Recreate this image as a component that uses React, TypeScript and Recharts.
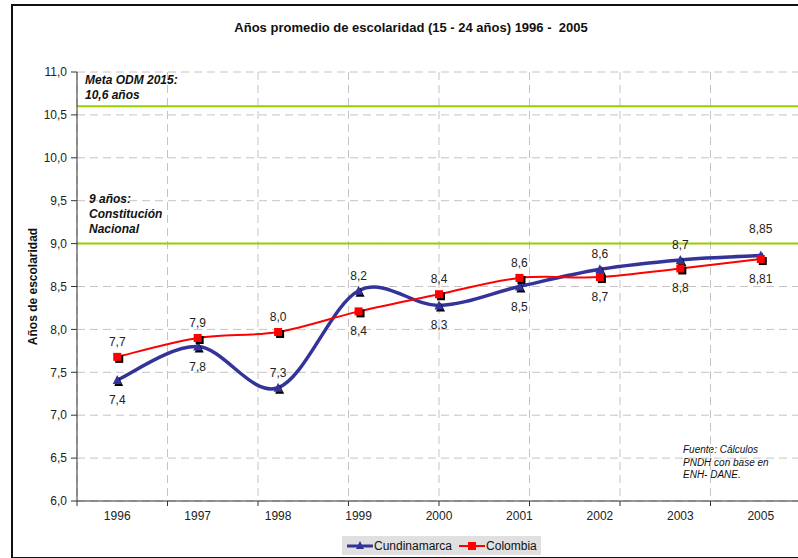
import React from 'react';
import { LineChart, Line, XAxis, YAxis, CartesianGrid, ReferenceLine, LabelList, Legend } from 'recharts';

const years = ['1996', '1997', '1998', '1999', '2000', '2001', '2002', '2003', '2005'];
const cundinamarca = [7.41, 7.8, 7.32, 8.45, 8.28, 8.5, 8.7, 8.81, 8.86];
const colombia = [7.68, 7.9, 7.97, 8.21, 8.41, 8.6, 8.61, 8.71, 8.82];
const cundLabels = ['7,4', '7,8', '7,3', '8,2', '8,3', '8,5', '8,6', '8,7', '8,85'];
const cundLabelPos = ['bottom', 'bottom', 'top', 'top', 'bottom', 'bottom', 'top', 'top', 'high'];
const colLabels = ['7,7', '7,9', '8,0', '8,4', '8,4', '8,6', '8,7', '8,8', '8,81'];
const colLabelPos = ['top', 'top', 'top', 'bottom', 'top', 'top', 'bottom', 'bottom', 'bottom'];
const yTicks = [6, 6.5, 7, 7.5, 8, 8.5, 9, 9.5, 10, 10.5, 11];
const metaOdm = 10.6;
const constitucion = 9;

const FONT = '"Liberation Sans", Arial, sans-serif';
const BLUE = '#333399';
const RED = '#ff0000';

const data = years.map((year, i) => ({
  year,
  cund: cundinamarca[i],
  col: colombia[i],
  cundLabel: cundLabels[i],
  colLabel: colLabels[i],
}));
const boundaryTicks = Array.from({ length: years.length + 1 }, (_, i) => i);

// Excel-like smoothed line (Catmull-Rom through the points)
const smoothCurve = (context: any) => {
  let pts: number[][] = [];
  return {
    areaStart() {},
    areaEnd() {},
    lineStart() {
      pts = [];
    },
    point(x: number, y: number) {
      pts.push([+x, +y]);
    },
    lineEnd() {
      if (!pts.length) return;
      context.moveTo(pts[0][0], pts[0][1]);
      for (let i = 0; i < pts.length - 1; i++) {
        const p0 = pts[i - 1] || pts[i];
        const p1 = pts[i];
        const p2 = pts[i + 1];
        const p3 = pts[i + 2] || p2;
        context.bezierCurveTo(
          p1[0] + (p2[0] - p0[0]) / 6,
          p1[1] + (p2[1] - p0[1]) / 6,
          p2[0] - (p3[0] - p1[0]) / 6,
          p2[1] - (p3[1] - p1[1]) / 6,
          p2[0],
          p2[1]
        );
      }
    },
  };
};

const TriangleDot = (props: any) => {
  const { cx, cy } = props;
  if (cx == null || cy == null) return null;
  return (
    <g>
      <polygon points={`${cx + 1.5},${cy - 3} ${cx + 6},${cy + 6} ${cx - 3},${cy + 6}`} fill="#000" />
      <polygon points={`${cx},${cy - 5} ${cx + 4.5},${cy + 4} ${cx - 4.5},${cy + 4}`} fill={BLUE} />
    </g>
  );
};

const SquareDot = (props: any) => {
  const { cx, cy } = props;
  if (cx == null || cy == null) return null;
  return (
    <g>
      <rect x={cx - 2} y={cy - 2} width={8} height={8} fill="#000" />
      <rect x={cx - 4} y={cy - 4} width={8} height={8} fill={RED} />
    </g>
  );
};

const labelShift: Record<string, number> = { top: -11, high: -23, bottom: 24 };

const makeLabel = (positions: string[]) => (props: any) => {
  const { x, y, value, index } = props;
  return (
    <text x={x} y={y + labelShift[positions[index]]} textAnchor="middle" fontSize={12} fill="#222" fontFamily={FONT}>
      {value}
    </text>
  );
};

const makeNote = (lines: string[], dx: number, dy: number) => (props: any) => {
  const vb = props.viewBox || {};
  return (
    <text x={vb.x + dx} y={vb.y + dy} fontSize={12} fontWeight="bold" fontStyle="italic" fill="#111" fontFamily={FONT}>
      {lines.map((l, i) => (
        <tspan key={i} x={vb.x + dx} dy={i === 0 ? 0 : 15}>
          {l}
        </tspan>
      ))}
    </text>
  );
};

const LegendBox = () => (
  <div
    style={{
      display: 'flex',
      alignItems: 'center',
      background: '#e0e0e0',
      height: 19,
      padding: '0 4px',
      fontFamily: FONT,
      fontSize: 12,
      color: '#111',
      width: 'fit-content',
    }}
  >
    <svg width={28} height={12}>
      <line x1={1} y1={6} x2={27} y2={6} stroke={BLUE} strokeWidth={3} />
      <polygon points="14,1 18,9 10,9" fill={BLUE} />
    </svg>
    <span style={{ marginRight: 6 }}>Cundinamarca</span>
    <svg width={28} height={12}>
      <line x1={1} y1={6} x2={27} y2={6} stroke={RED} strokeWidth={2} />
      <rect x={10} y={2} width={8} height={8} fill={RED} />
    </svg>
    <span>Colombia</span>
  </div>
);

const App: React.FC = () => {
  return (
    <div style={{ position: 'absolute', left: 0, top: 0, width: 798, height: 558, overflow: 'hidden', background: '#fff' }}>
      <div
        style={{
          position: 'absolute',
          left: 11,
          top: 4,
          width: 810,
          height: 551,
          border: '2px solid #111',
        }}
      />
      <div
        style={{
          position: 'absolute',
          left: 0,
          top: 20,
          width: 822,
          textAlign: 'center',
          whiteSpace: 'pre',
          fontFamily: FONT,
          fontWeight: 'bold',
          fontSize: 13,
          color: '#111',
        }}
      >
        {'Años promedio de escolaridad (15 - 24 años) 1996 -  2005'}
      </div>
      <div
        style={{
          position: 'absolute',
          left: 683,
          top: 444,
          fontFamily: FONT,
          fontStyle: 'italic',
          fontSize: 10,
          lineHeight: '12.5px',
          color: '#111',
        }}
      >
        Fuente: Cálculos
        <br />
        PNDH con base en
        <br />
        ENH- DANE.
      </div>
      <div style={{ position: 'absolute', left: 0, top: 0 }}>
        <LineChart width={812} height={558} data={data} margin={{ top: 72, right: 11, bottom: 26, left: 0 }}>
          <XAxis
            xAxisId="axisB"
            dataKey="year"
            type="category"
            scale="band"
            axisLine={false}
            tickLine={false}
            tickSize={0}
            tickMargin={9}
            height={30}
            tick={{ fontSize: 12, fill: '#222', fontFamily: FONT }}
          />
          <XAxis
            xAxisId="axisA"
            type="number"
            domain={[0, years.length]}
            ticks={boundaryTicks}
            tickFormatter={() => ''}
            height={1}
            tickSize={5}
            stroke="#333"
            allowDataOverflow
          />
          <YAxis
            domain={[6, 11]}
            ticks={yTicks}
            width={77}
            stroke="#333"
            tickMargin={4}
            tickFormatter={(v: number) => v.toFixed(1).replace('.', ',')}
            tick={{ fontSize: 12, fill: '#222', fontFamily: FONT }}
            label={{
              value: 'Años de escolaridad',
              angle: -90,
              position: 'center',
              dx: -6,
              style: { fontSize: 12, fontWeight: 'bold', fill: '#111', fontFamily: FONT },
            }}
          />
          <CartesianGrid xAxisId="axisA" stroke="#c4c4c4" strokeDasharray="8 5" />
          <ReferenceLine
            xAxisId="axisB"
            y={metaOdm}
            stroke="#99cc00"
            strokeWidth={2}
            label={makeNote(['Meta ODM 2015:', '10,6 años'], 8, -22)}
          />
          <ReferenceLine
            xAxisId="axisB"
            y={constitucion}
            stroke="#99cc00"
            strokeWidth={2}
            label={makeNote(['9 años:', 'Constitución', 'Nacional'], 12, -41)}
          />
          <Line
            xAxisId="axisB"
            type={smoothCurve as any}
            dataKey="cund"
            name="Cundinamarca"
            stroke={BLUE}
            strokeWidth={3.5}
            dot={<TriangleDot />}
            activeDot={false}
            isAnimationActive={false}
          >
            <LabelList dataKey="cundLabel" content={makeLabel(cundLabelPos)} />
          </Line>
          <Line
            xAxisId="axisB"
            type={smoothCurve as any}
            dataKey="col"
            name="Colombia"
            stroke={RED}
            strokeWidth={2}
            dot={<SquareDot />}
            activeDot={false}
            isAnimationActive={false}
          >
            <LabelList dataKey="colLabel" content={makeLabel(colLabelPos)} />
          </Line>
          <Legend
            layout="horizontal"
            verticalAlign="middle"
            align="center"
            content={() => <LegendBox />}
            wrapperStyle={{ top: 536, left: 342, width: 'auto' }}
          />
        </LineChart>
      </div>
    </div>
  );
};

export default App;
